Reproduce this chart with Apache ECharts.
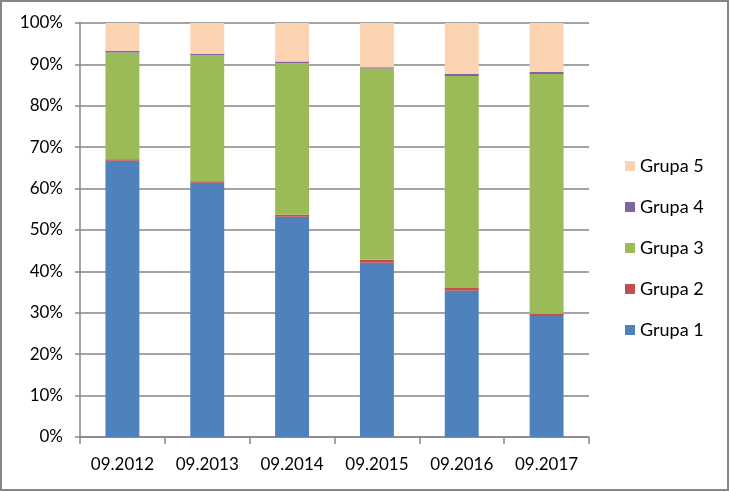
<!DOCTYPE html>
<html>
<head>
<meta charset="utf-8">
<script src="https://cdn.jsdelivr.net/npm/echarts@6/dist/echarts.min.js"></script>
<style>
html,body{margin:0;padding:0;background:#fff;}
#c{width:729px;height:491px;box-sizing:border-box;border:2px solid #868686;}
</style>
</head>
<body>
<div id="c"></div>
<script>
const categories = ['09.2012','09.2013','09.2014','09.2015','09.2016','09.2017'];
const grupa1 = [66.7, 61.4, 53.2, 42.1, 35.3, 29.2];
const grupa2 = [0.4, 0.4, 0.5, 0.7, 0.7, 0.6];
const grupa3 = [25.8, 30.5, 36.6, 46.2, 51.2, 57.9];
const grupa4 = [0.4, 0.3, 0.4, 0.3, 0.5, 0.5];
const grupa5 = [6.7, 7.4, 9.3, 10.7, 12.3, 11.8];
const seriesNames = ['Grupa 1','Grupa 2','Grupa 3','Grupa 4','Grupa 5'];
const seriesValues = [grupa1, grupa2, grupa3, grupa4, grupa5];
const colors = ['#4F81BD','#C0504D','#9BBB59','#8064A2','#FCD3B0'];

const font = 'Lato, Liberation Sans, sans-serif';
const chart = echarts.init(document.getElementById('c'), null, {renderer:'canvas'});
chart.setOption({
  animation:false,
  color: colors,
  textStyle:{fontFamily:font},
  grid:{left:78, right:138, top:21, bottom:52, containLabel:false},
  legend:{
    orient:'vertical', left:618, top:150,
    data:['Grupa 5','Grupa 4','Grupa 3','Grupa 2','Grupa 1'],
    icon:'rect', itemWidth:10, itemHeight:10, itemGap:23,
    textStyle:{fontSize:18, color:'#000', fontFamily:font}
  },
  xAxis:{
    type:'category', data:categories,
    axisLine:{lineStyle:{color:'#868686', width:1.5}},
    axisTick:{show:true, length:7, lineStyle:{color:'#868686', width:1.5}},
    axisLabel:{fontSize:17, color:'#000', margin:19, interval:0, fontFamily:font}
  },
  yAxis:{
    type:'value', min:0, max:100, interval:10,
    axisLine:{show:true, lineStyle:{color:'#868686', width:1.5}},
    axisTick:{show:true, length:5, lineStyle:{color:'#868686', width:1.5}},
    splitLine:{lineStyle:{color:'#868686', width:1.5}},
    axisLabel:{fontSize:17, color:'#000', margin:17, formatter:'{value}%', fontFamily:font}
  },
  series: seriesNames.map((n,i)=>({
    name:n, type:'bar', stack:'total', barWidth:'40%',
    data: seriesValues[i]
  }))
});
</script>
</body>
</html>
